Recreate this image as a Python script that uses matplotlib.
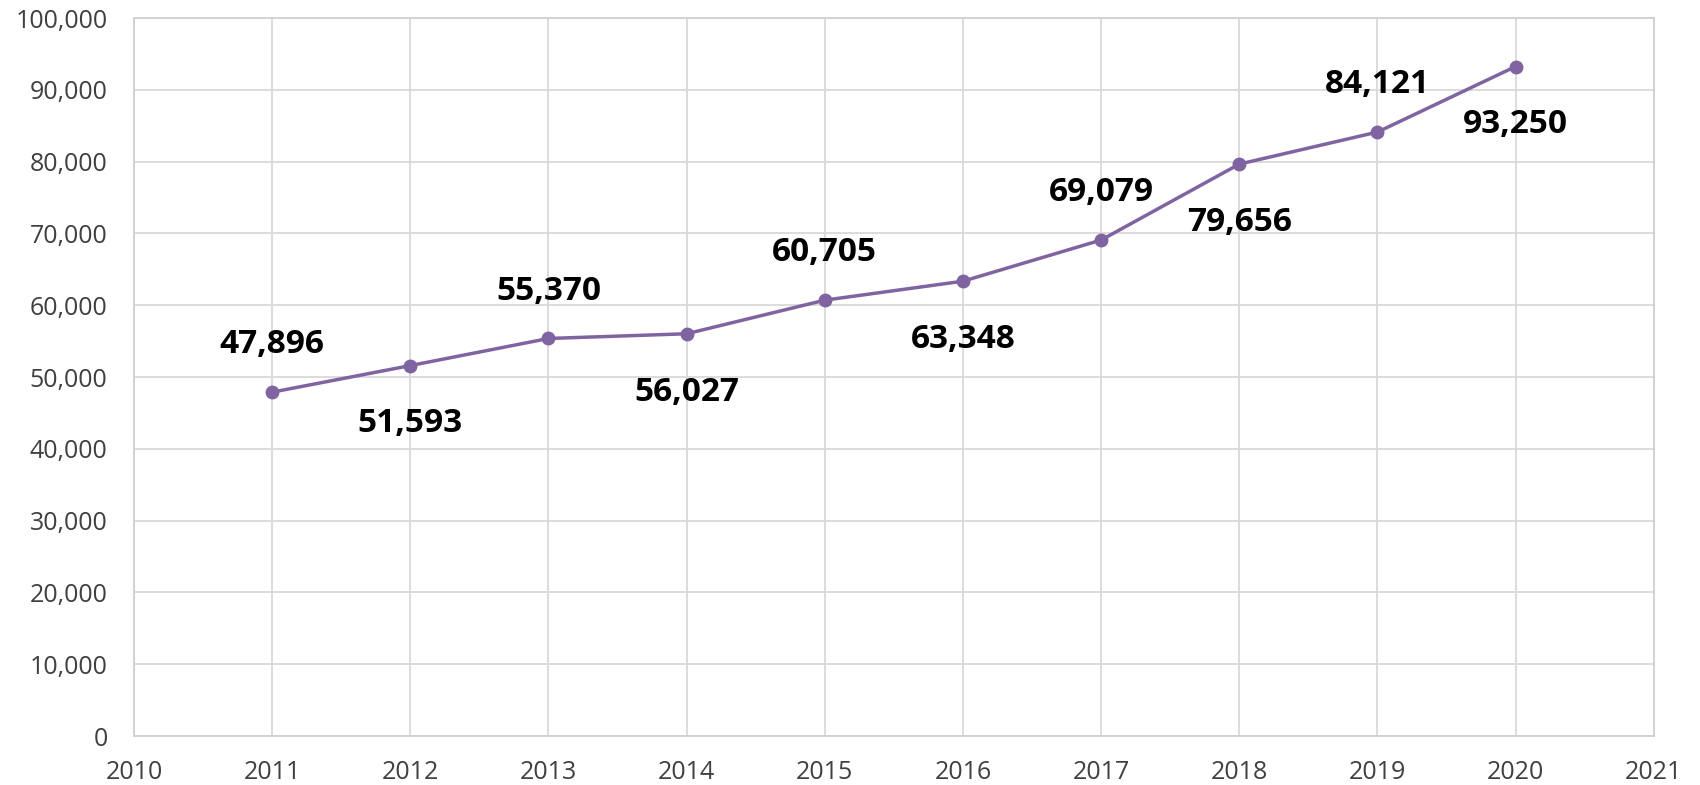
import matplotlib.pyplot as plt
from matplotlib.ticker import FuncFormatter, MultipleLocator

years = [2011, 2012, 2013, 2014, 2015, 2016, 2017, 2018, 2019, 2020]
values = [47896, 51593, 55370, 56027, 60705, 63348, 69079, 79656, 84121, 93250]
label_side = ['above', 'below', 'above', 'below', 'above', 'below', 'above', 'below', 'above', 'below']

plt.rcParams['font.family'] = ['Open Sans', 'DejaVu Sans']

fig = plt.figure(figsize=(17, 7.85), dpi=100)
ax = fig.add_axes([0.0788, 0.0624, 0.894, 0.9146])

ax.plot(years, values, color='#8064A2', lw=2.5, marker='o', ms=9, zorder=3)

for x, v, side in zip(years, values, label_side):
    dy = 34 if side == 'above' else -42
    ax.annotate(f'{v:,}', (x, v), xytext=(0, dy), textcoords='offset points',
                ha='center', va='center', fontsize=24, fontweight='bold', color='#000000')

ax.set_xlim(2010, 2021)
ax.set_ylim(0, 100000)
ax.xaxis.set_major_locator(MultipleLocator(1))
ax.yaxis.set_major_locator(MultipleLocator(10000))
ax.yaxis.set_major_formatter(FuncFormatter(lambda v, p: f'{int(v):,}'))

ax.grid(True, color='#d9d9d9', lw=1.3)
ax.set_axisbelow(True)
for s in ax.spines.values():
    s.set_color('#d0d0d0')
    s.set_linewidth(1.3)
ax.tick_params(length=0, labelsize=18, colors='#404040')
ax.tick_params(axis='y', pad=19)
ax.tick_params(axis='x', pad=17)

fig.savefig('out.png', dpi=100)
